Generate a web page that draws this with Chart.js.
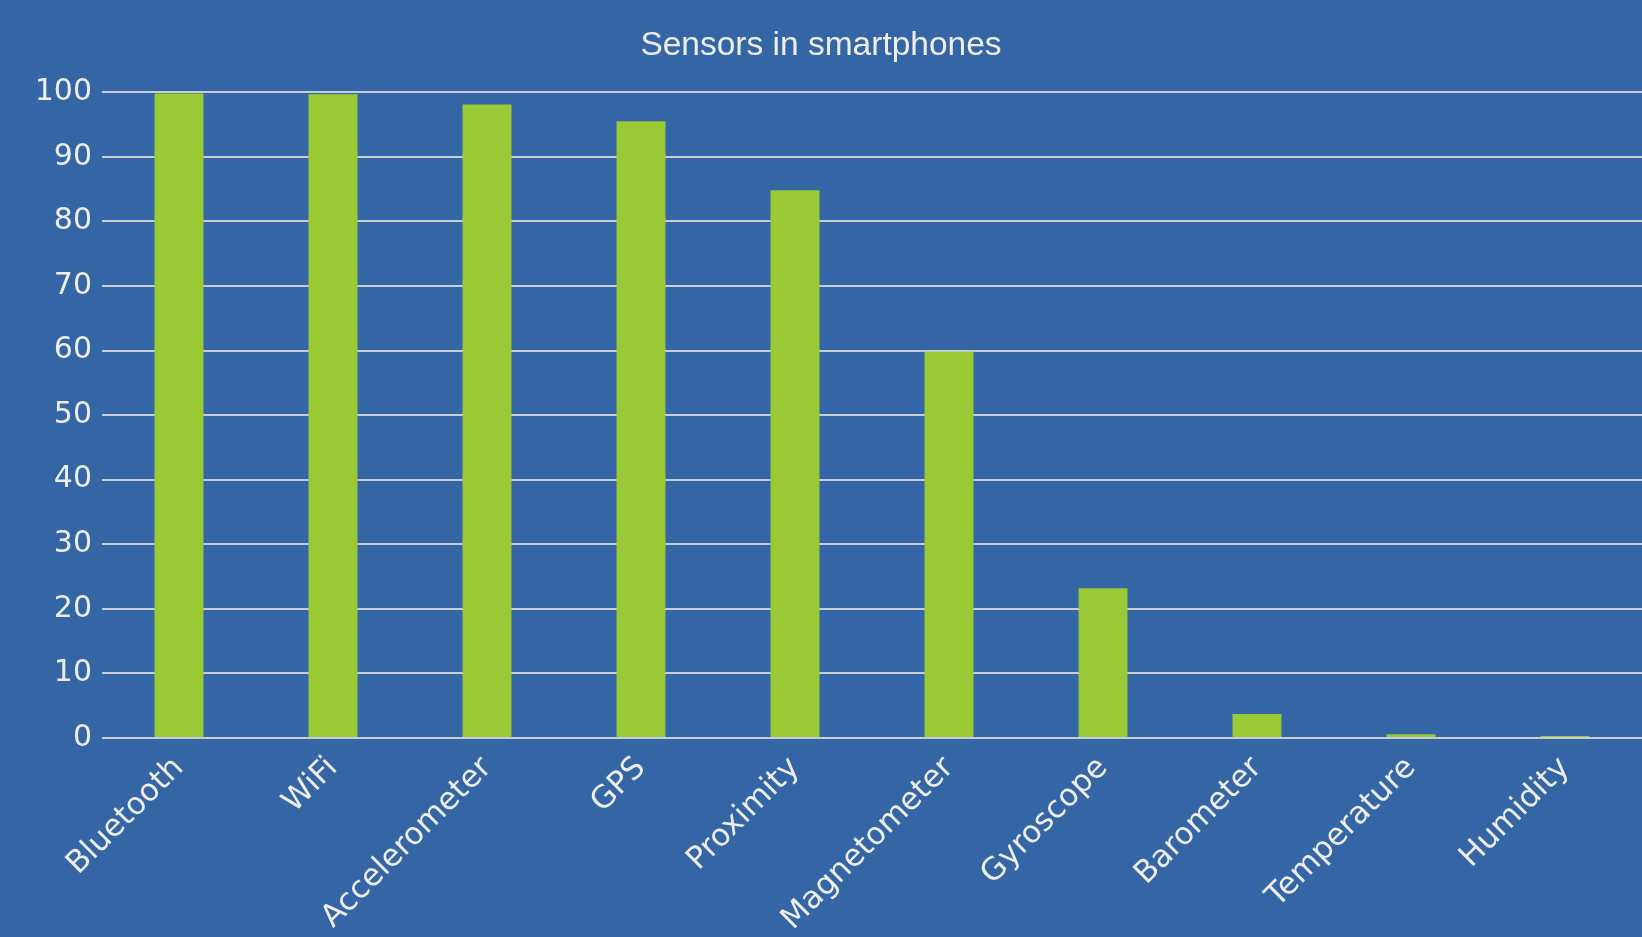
<!DOCTYPE html>
<html>
<head>
<meta charset="utf-8">
<script src="https://cdn.jsdelivr.net/npm/chart.js@4/dist/chart.umd.min.js"></script>
<style>
html,body{margin:0;padding:0;background:#3465a4;}
#wrap{width:1642px;height:937px;position:relative;}
</style>
</head>
<body>
<div id="wrap"><canvas id="c" width="1642" height="937"></canvas></div>
<script>
const categories = ["Bluetooth","WiFi","Accelerometer","GPS","Proximity","Magnetometer","Gyroscope","Barometer","Temperature","Humidity"];
const values = [99.8, 99.7, 98.1, 95.5, 84.8, 59.8, 23.2, 3.7, 0.6, 0.3];
const yTicks = [0,10,20,30,40,50,60,70,80,90,100];
const titleText = "Sensors in smartphones";

const textColor = "#eeeeec";
const bg = {
  id: "bg",
  beforeDraw(chart){
    const ctx = chart.ctx;
    ctx.save();
    ctx.fillStyle = "#3465a4";
    ctx.fillRect(0,0,chart.width,chart.height);
    ctx.restore();
  }
};

new Chart(document.getElementById("c"), {
  type: "bar",
  data: {
    labels: categories,
    datasets: [{
      data: values,
      backgroundColor: "#9acb36",
      borderWidth: 0,
      categoryPercentage: 1.0,
      barPercentage: 0.318
    }]
  },
  options: {
    responsive: false,
    animation: false,
    devicePixelRatio: 1,
    layout: { padding: { left: -10, right: -10, top: 0, bottom: 0 } },
    plugins: {
      legend: { display: false },
      tooltip: { enabled: false },
      title: {
        display: true,
        text: titleText,
        color: textColor,
        font: { family: "Liberation Sans", size: 33.5, weight: "normal" },
        padding: { top: 26, bottom: 26 }
      }
    },
    scales: {
      x: {
        grid: { display: false, drawTicks: false },
        border: { display: false },
        ticks: {
          color: textColor,
          font: { family: "DejaVu Sans", size: 31 },
          maxRotation: 45,
          minRotation: 45,
          autoSkip: false,
          padding: 12
        },
        afterFit(scale){ scale.paddingRight = 0; scale.paddingLeft = 0; scale.height = 199; }
      },
      y: {
        min: 0,
        max: 100,
        afterBuildTicks(scale){ scale.ticks = yTicks.map(v => ({value: v})); },
        grid: { color: "#c9cdd4", lineWidth: 2, drawTicks: false },
        border: { display: false },
        ticks: {
          color: textColor,
          font: { family: "DejaVu Sans", size: 30 },
          padding: 10
        },
        afterFit(scale){ scale.width = 112; }
      }
    }
  },
  plugins: [bg]
});
</script>
</body>
</html>
